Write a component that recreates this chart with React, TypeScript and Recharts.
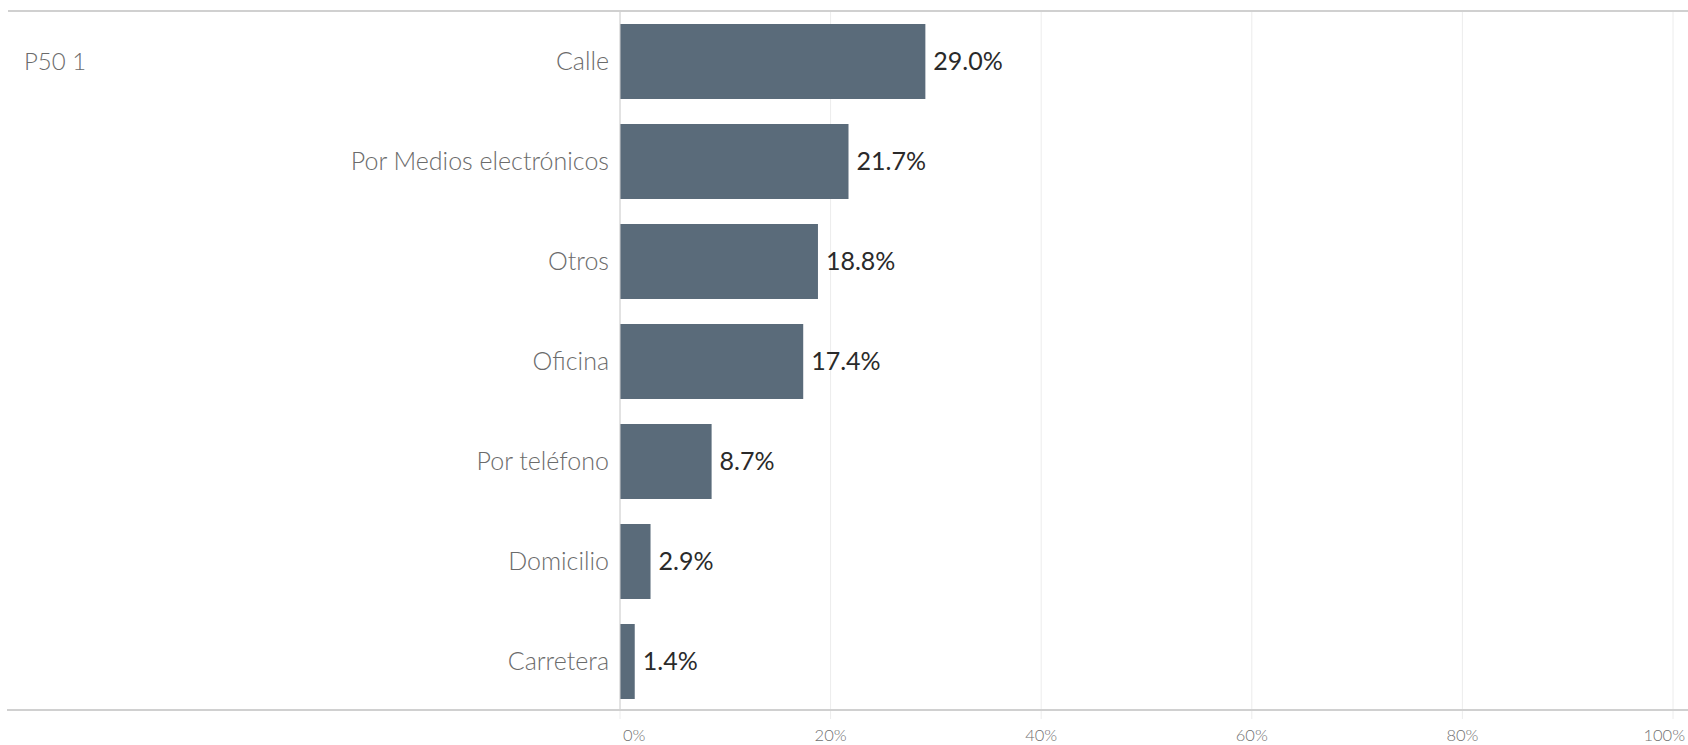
import React from 'react';
import { BarChart, Bar, XAxis, YAxis, CartesianGrid, LabelList } from 'recharts';

const categories = ['Calle', 'Por Medios electrónicos', 'Otros', 'Oficina', 'Por teléfono', 'Domicilio', 'Carretera'];
const values = [29.0, 21.7, 18.8, 17.4, 8.7, 2.9, 1.4];
const xTicks = [0, 20, 40, 60, 80, 100];
const headerLabel = 'P50 1';

const data = categories.map((c, i) => ({ name: c, value: values[i] }));

const FONT = 'Lato, "Open Sans", sans-serif';

const XTick = (props: any) => {
  const { x, y, payload } = props;
  const v = payload.value;
  let anchor: 'start' | 'middle' | 'end' = 'middle';
  let dx = 0;
  if (v === 0) { anchor = 'start'; dx = 3; }
  if (v === 100) { anchor = 'end'; dx = 12; }
  return (
    <text x={x + dx} y={y} dy={20} textAnchor={anchor} fill="#707070" fontSize={16.5} fontFamily={FONT} fontWeight={300}>
      {v}%
    </text>
  );
};

export default function App() {
  return (
    <div style={{ position: 'fixed', left: 0, top: 0, width: 1688, height: 745, background: '#fff' }}>
      <BarChart
        width={1688}
        height={745}
        data={data}
        layout="vertical"
        margin={{ top: 11, right: 15, bottom: 0, left: 0 }}
        barSize={75}
      >
        <CartesianGrid horizontal={false} vertical={true} stroke="#ececec" />
        <XAxis
          type="number"
          domain={[0, 100]}
          ticks={xTicks}
          height={34}
          axisLine={false}
          tickLine={{ stroke: '#ececec' }}
          tickSize={8}
          tick={<XTick />}
          interval={0}
        />
        <YAxis
          type="category"
          dataKey="name"
          width={620}
          axisLine={{ stroke: '#d0d0d0' }}
          tickLine={false}
          tickSize={0}
          tickMargin={11}
          tick={{ fill: '#6b6b6b', fontSize: 25, fontFamily: FONT, fontWeight: 300 }}
          interval={0}
        />
        <Bar dataKey="value" fill="#5a6b7a" isAnimationActive={false}>
          <LabelList
            dataKey="value"
            position="right"
            offset={8}
            fill="#2a2a2a"
            fontSize={25}
            fontFamily={FONT}
            fontWeight={400}
            formatter={(v: any) => `${Number(v).toFixed(1)}%`}
          />
        </Bar>
      </BarChart>
      <div style={{ position: 'absolute', left: 8, right: 0, top: 10, height: 2, background: '#d0d0d0' }} />
      <div style={{ position: 'absolute', left: 7, right: 0, top: 709, height: 2, background: '#d0d0d0' }} />
      <div
        style={{
          position: 'absolute',
          left: 24,
          top: 46,
          fontSize: 24,
          fontFamily: FONT,
          fontWeight: 300,
          color: '#6b6b6b',
          lineHeight: '30px',
        }}
      >
        {headerLabel}
      </div>
    </div>
  );
}
